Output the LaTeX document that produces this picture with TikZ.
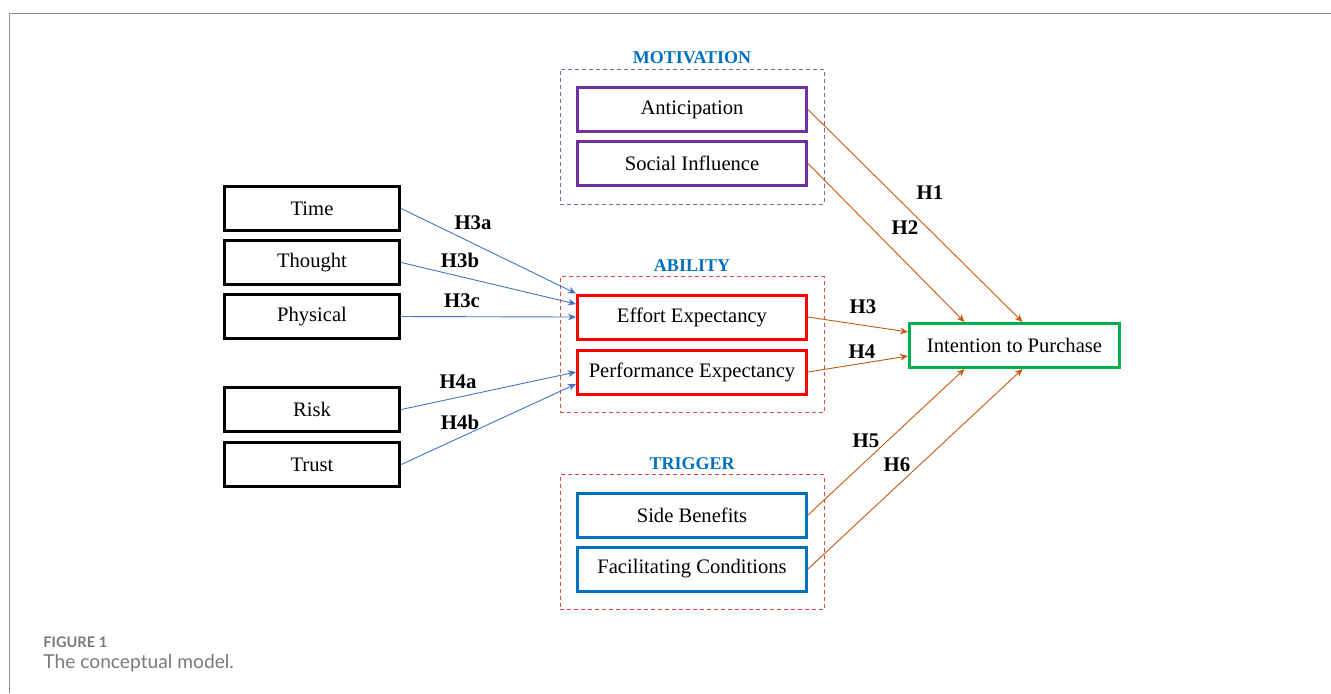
\documentclass[tikz,border=0pt]{standalone}
\usepackage{fontspec}
\setmainfont{Liberation Serif}
\newfontfamily\capfont{Lato}
\usepackage{tikz}
\usetikzlibrary{positioning, fit, arrows.meta}
\definecolor{FrameGray}{HTML}{8C8C8C}
\definecolor{CaptionGray}{HTML}{7A7A7A}
\definecolor{HeadBlue}{HTML}{0070C0}
\definecolor{MotivPurple}{HTML}{7030A0}
\definecolor{MotivDash}{HTML}{8064A2}
\definecolor{AbilityRed}{HTML}{FF0000}
\definecolor{GroupDash}{HTML}{E04848}
\definecolor{TriggerBlue}{HTML}{0070C0}
\definecolor{OutcomeGreen}{HTML}{00B050}
\definecolor{PathOrange}{HTML}{C55A11}
\definecolor{PathBlue}{HTML}{4472C4}

\tikzset{
  factor/.style={draw=black, line width=1.5pt, rectangle, minimum width=87.75pt, minimum height=22pt, inner sep=0pt},
  construct/.style={factor, minimum width=114.5pt},
  outcome/.style={factor, draw=OutcomeGreen, minimum width=105pt},
  group/.style={rectangle, dash pattern=on 2pt off 1.5pt, line width=0.5pt, inner xsep=8pt, inner ysep=8.5pt},
  header/.style={text=HeadBlue, font=\fontsize{9}{11}\selectfont\bfseries, inner sep=0pt},
  hyp/.style={font=\fontsize{10.4}{12}\selectfont\bfseries, inner sep=0pt},
  bluepath/.style={->, line width=0.45pt, PathBlue},
  orangepath/.style={->, line width=0.45pt, PathOrange},
}

\begin{document}
\begin{tikzpicture}[x=0.5pt, y=-0.5pt, node distance=3.5pt, >={Stealth[length=4pt, width=3.4pt]}, font=\fontsize{10.3}{12}\selectfont]
      \useasboundingbox (0,0) rectangle (1331,693);
      % Frame
      \draw[FrameGray, line width=0.75pt] (9.5,693) |- (1331,13.5);

      % Antecedents
      \node [factor] (time) at (312,208.5) {Time};
      \node [factor, below=of time] (thought) {Thought};
      \node [factor, below=of thought] (physical) {Physical};
      \node [factor] (risk) at (312,409.5) {Risk};
      \node [factor, below=4pt of risk] (trust) {Trust};

      % Motivation / Ability / Trigger
      \node [construct, draw=MotivPurple] (antic) at (692,109.5) {Anticipation};
      \node [construct, draw=MotivPurple, below=of antic] (social) {Social Influence};
      \node [construct, draw=AbilityRed] (effort) at (692,317) {Effort Expectancy};
      \node [construct, draw=AbilityRed, below=4pt of effort] (perf) {Performance Expectancy};
      \node [construct, draw=TriggerBlue] (side) at (692,515) {Side Benefits};
      \node [construct, draw=TriggerBlue, below=of side] (facil) {Facilitating Conditions};

      \node [group, draw=MotivDash, fit=(antic)(social)] (motiv) {};
      \node [group, draw=GroupDash, fit=(effort)(perf)] (ability) {};
      \node [group, draw=GroupDash, fit=(side)(facil)] (trigger) {};
      \node [header, above=2.2pt of motiv] (motivhead) {MOTIVATION};
      \node [header, above=2.2pt of ability] (abilityhead) {ABILITY};
      \node [header, above=2.2pt of trigger] (triggerhead) {TRIGGER};

      % Outcome
      \node [outcome] (intent) at (1014.5,345.5) {Intention to Purchase};

      % Paths
      \draw[bluepath] (time.east) -- (effort.north west);
      \draw[bluepath] (thought.east) -- ([yshift=6.5pt]effort.west);
      \draw[bluepath] (physical.east) -- (effort.west);
      \draw[bluepath] (risk.east) -- (perf.west);
      \draw[bluepath] (trust.east) -- ([yshift=-6pt]perf.west);

      \draw[orangepath] (antic.east) -- ([xshift=4pt]intent.north);
      \draw[orangepath] (social.east) -- ([xshift=-25pt]intent.north);
      \draw[orangepath] (effort.east) -- ([yshift=6.75pt]intent.west);
      \draw[orangepath] (perf.east) -- ([yshift=-5.25pt]intent.west);
      \draw[orangepath] (side.east) -- ([xshift=-25pt]intent.south);
      \draw[orangepath] (facil.east) -- ([xshift=4pt]intent.south);

      % Hypotheses
      \node [hyp] (h3a) at (473,223) {H3a};
      \node [hyp] (h3b) at (460,260) {H3b};
      \node [hyp] (h3c) at (462,301) {H3c};
      \node [hyp] (h4a) at (458,382) {H4a};
      \node [hyp] (h4b) at (460,422) {H4b};
      \node [hyp] (h1) at (930,193) {H1};
      \node [hyp] (h2) at (905,228) {H2};
      \node [hyp] (h3) at (863,307) {H3};
      \node [hyp] (h4) at (862,352) {H4};
      \node [hyp] (h5) at (866,441) {H5};
      \node [hyp] (h6) at (897,465) {H6};

      % Caption
      \node [anchor=west, inner sep=0pt, text=CaptionGray, font=\capfont\fontsize{7.3}{9}\selectfont\bfseries] (figlabel) at (43,642) {FIGURE 1};
      \node [anchor=west, inner sep=0pt, text=CaptionGray, font=\capfont\fontsize{9.6}{12}\selectfont] (figcaption) at (43,663) {The conceptual model.};
\end{tikzpicture}
\end{document}
